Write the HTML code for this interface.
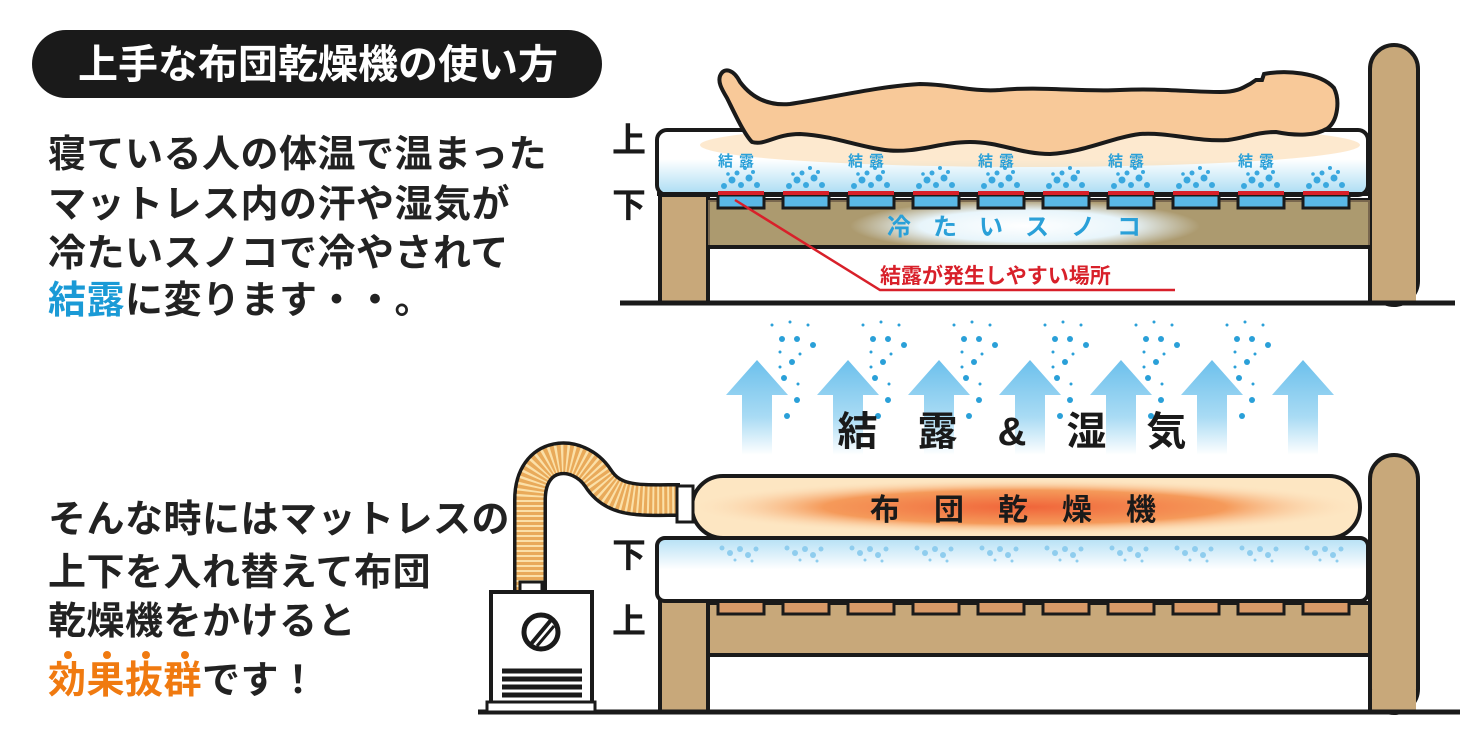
<!DOCTYPE html>
<html><head><meta charset="utf-8"><style>
html,body{margin:0;padding:0;background:#fff;}
body{width:1475px;height:733px;overflow:hidden;position:relative;font-family:"Liberation Sans","Noto Sans CJK JP",sans-serif;}
.t{position:absolute;font-weight:bold;color:#222;font-size:38px;line-height:38px;white-space:nowrap;letter-spacing:0.5px;}
</style></head><body>
<svg width="1475" height="733" style="position:absolute;left:0;top:0" xmlns="http://www.w3.org/2000/svg" font-family="Liberation Sans, Noto Sans CJK JP, sans-serif">
<defs>
<linearGradient id="mt" x1="0" y1="0" x2="0" y2="1">
<stop offset="0" stop-color="#fff"/><stop offset="0.45" stop-color="#fff"/><stop offset="1" stop-color="#a9dcf3"/></linearGradient>
<linearGradient id="mb" x1="0" y1="0" x2="0" y2="1">
<stop offset="0" stop-color="#b5e0f5"/><stop offset="0.5" stop-color="#fff"/><stop offset="1" stop-color="#fff"/></linearGradient>
<linearGradient id="ar" x1="0" y1="0" x2="0" y2="1">
<stop offset="0" stop-color="#6cc0ec"/><stop offset="0.6" stop-color="#a9dbf4"/><stop offset="1" stop-color="#fff"/></linearGradient>
<radialGradient id="bag" cx="0.5" cy="0.5" r="0.5">
<stop offset="0" stop-color="#f0653a"/><stop offset="0.6" stop-color="#f59a5a"/><stop offset="1" stop-color="#fde2bf" stop-opacity="0"/></radialGradient>
<radialGradient id="cold" cx="0.5" cy="0.5" r="0.5">
<stop offset="0" stop-color="#ffffff"/><stop offset="0.6" stop-color="#e8f5fb"/><stop offset="1" stop-color="#e8f5fb" stop-opacity="0"/></radialGradient>
</defs>

<rect x="32" y="30" width="570" height="68" rx="34" fill="#1a1a1a"/>
<text x="318" y="78" font-size="40" font-weight="bold" fill="#fff" text-anchor="middle">上手な布団乾燥機の使い方</text>

<!-- ===== TOP BED ===== -->
<rect x="1370" y="45" width="48" height="260" rx="24" fill="#c8a87a" stroke="#1a1a1a" stroke-width="4"/>
<rect x="1372" y="280" width="44" height="22" fill="#c8a87a"/>
<rect x="660" y="195" width="48" height="108" fill="#c8a87a" stroke="#1a1a1a" stroke-width="4"/>
<rect x="708" y="200" width="662" height="47" fill="#8a8a62" stroke="#1a1a1a" stroke-width="4"/>
<rect x="708" y="200" width="662" height="47" fill="#c8a87a" opacity="0.55"/>
<ellipse cx="1025" cy="226" rx="175" ry="26" fill="url(#cold)"/>
<text x="1025" y="235" font-size="24" font-weight="bold" fill="#2aa0d8" text-anchor="middle" letter-spacing="22">冷たいスノコ</text>
<rect x="708" y="247" width="662" height="56" fill="#fff" stroke="#1a1a1a" stroke-width="4"/>
<line x1="620" y1="303" x2="1455" y2="303" stroke="#1a1a1a" stroke-width="5"/>
<rect x="657" y="130" width="711" height="65" rx="10" fill="url(#mt)" stroke="#1a1a1a" stroke-width="4"/>
<ellipse cx="1030" cy="145" rx="330" ry="22" fill="#fbd3a0" opacity="0.5"/>
<g stroke="#1a1a1a" stroke-width="3">
<rect x="718" y="195" width="46" height="13" fill="#5ab8e6"/><rect x="783" y="195" width="46" height="13" fill="#5ab8e6"/>
<rect x="848" y="195" width="46" height="13" fill="#5ab8e6"/><rect x="913" y="195" width="46" height="13" fill="#5ab8e6"/>
<rect x="978" y="195" width="46" height="13" fill="#5ab8e6"/><rect x="1043" y="195" width="46" height="13" fill="#5ab8e6"/>
<rect x="1108" y="195" width="46" height="13" fill="#5ab8e6"/><rect x="1173" y="195" width="46" height="13" fill="#5ab8e6"/>
<rect x="1238" y="195" width="46" height="13" fill="#5ab8e6"/><rect x="1303" y="195" width="46" height="13" fill="#5ab8e6"/>
</g>
<line x1="657" y1="194" x2="1368" y2="194" stroke="#1a1a1a" stroke-width="4"/>
<g fill="#d8202a">
<rect x="718" y="191" width="46" height="4"/><rect x="783" y="191" width="46" height="4"/><rect x="848" y="191" width="46" height="4"/><rect x="913" y="191" width="46" height="4"/><rect x="978" y="191" width="46" height="4"/><rect x="1043" y="191" width="46" height="4"/><rect x="1108" y="191" width="46" height="4"/><rect x="1173" y="191" width="46" height="4"/><rect x="1238" y="191" width="46" height="4"/><rect x="1303" y="191" width="46" height="4"/>
</g>
<g fill="#3aa8df">
<g id="dc"><circle cx="724" cy="186" r="3"/><circle cx="732" cy="180" r="3.5"/><circle cx="741" cy="185" r="3"/><circle cx="749" cy="178" r="3.5"/><circle cx="757" cy="185" r="3"/><circle cx="737" cy="173" r="2.5"/><circle cx="753" cy="172" r="2"/><circle cx="745" cy="168" r="2"/><circle cx="728" cy="174" r="1.8"/></g>
<use href="#dc" x="65"/><use href="#dc" x="130"/><use href="#dc" x="195"/><use href="#dc" x="260"/><use href="#dc" x="325"/><use href="#dc" x="390"/><use href="#dc" x="455"/><use href="#dc" x="520"/><use href="#dc" x="585"/>
</g>
<g font-size="15" font-weight="bold" fill="#2aa0d8" letter-spacing="6">
<text x="718" y="166">結露</text><text x="848" y="166">結露</text><text x="978" y="166">結露</text><text x="1108" y="166">結露</text><text x="1238" y="166">結露</text>
</g>
<!-- person -->
<path d="M720,76 C724,66 734,70 740,82 C752,98 768,106 790,104 C830,98 880,86 920,84 C950,84 970,92 1000,90 C1040,86 1080,92 1120,90 C1160,88 1190,92 1220,92 C1240,92 1245,86 1250,84 L1256,80 L1262,80 L1264,74 C1285,70 1320,72 1334,88 C1340,100 1338,120 1328,128 C1316,136 1296,136 1276,132 C1256,132 1245,138 1228,140 C1195,142 1170,132 1140,134 C1110,138 1085,152 1050,154 C1020,154 1000,142 970,142 C940,142 915,154 885,150 C855,146 835,136 800,134 C775,134 765,146 752,142 C744,134 734,112 727,98 C721,88 718,82 720,76 Z" fill="#f8c999" stroke="#1a1a1a" stroke-width="4"/>
<polyline points="735,200 880,290 1175,290" fill="none" stroke="#d8202a" stroke-width="2.5"/>
<text x="880" y="283" font-size="21" font-weight="bold" fill="#d8202a">結露が発生しやすい場所</text>
<text x="612" y="152" font-size="34" font-weight="bold" fill="#1a1a1a">上</text>
<text x="612" y="217" font-size="34" font-weight="bold" fill="#1a1a1a">下</text>

<!-- ===== ARROWS ===== -->
<g fill="url(#ar)">
<g id="arw"><polygon points="757,360 788,395 772,395 772,455 742,455 742,395 726,395"/></g>
<use href="#arw" x="91"/><use href="#arw" x="182"/><use href="#arw" x="273"/><use href="#arw" x="364"/><use href="#arw" x="455"/><use href="#arw" x="546"/>
</g>
<g fill="#2aa0d8">
<g id="sp"><circle cx="772" cy="325" r="1.5"/><circle cx="790" cy="322" r="1.5"/><circle cx="808" cy="325" r="1.5"/><circle cx="782" cy="339" r="3"/><circle cx="797" cy="339" r="3"/><circle cx="813" cy="345" r="3"/><circle cx="780" cy="352" r="1.5"/><circle cx="800" cy="354" r="1.5"/><circle cx="792" cy="362" r="3"/><circle cx="780" cy="367" r="1.5"/><circle cx="784" cy="378" r="3"/><circle cx="798" cy="384" r="1.5"/><circle cx="797" cy="400" r="3"/><circle cx="787" cy="416" r="3"/></g>
<use href="#sp" x="91"/><use href="#sp" x="182"/><use href="#sp" x="273"/><use href="#sp" x="364"/><use href="#sp" x="455"/>
</g>
<text x="1032" y="445" font-size="40" font-weight="bold" fill="#1a1a1a" text-anchor="middle" letter-spacing="40">結露&amp;湿気</text>

<!-- ===== BOTTOM BED ===== -->
<rect x="1370" y="455" width="48" height="258" rx="24" fill="#c8a87a" stroke="#1a1a1a" stroke-width="4"/>
<rect x="1372" y="690" width="44" height="20" fill="#c8a87a"/>
<rect x="660" y="600" width="48" height="112" fill="#c8a87a" stroke="#1a1a1a" stroke-width="4"/>
<rect x="708" y="603" width="662" height="52" fill="#c8a87a" stroke="#1a1a1a" stroke-width="4"/>
<rect x="708" y="655" width="662" height="57" fill="#fff" stroke="#1a1a1a" stroke-width="4"/>
<line x1="478" y1="712" x2="1460" y2="712" stroke="#1a1a1a" stroke-width="5"/>
<g stroke="#1a1a1a" stroke-width="3" fill="#d99a68">
<rect x="718" y="600" width="46" height="14"/><rect x="783" y="600" width="46" height="14"/><rect x="848" y="600" width="46" height="14"/><rect x="913" y="600" width="46" height="14"/><rect x="978" y="600" width="46" height="14"/><rect x="1043" y="600" width="46" height="14"/><rect x="1108" y="600" width="46" height="14"/><rect x="1173" y="600" width="46" height="14"/><rect x="1238" y="600" width="46" height="14"/><rect x="1303" y="600" width="46" height="14"/>
</g>
<rect x="657" y="538" width="711" height="63" rx="8" fill="url(#mb)" stroke="#1a1a1a" stroke-width="4"/>
<g fill="#8fcdee">
<g id="db"><circle cx="722" cy="548" r="2.5"/><circle cx="730" cy="553" r="3"/><circle cx="740" cy="549" r="3"/><circle cx="748" cy="555" r="3"/><circle cx="756" cy="549" r="2.5"/><circle cx="735" cy="560" r="1.5"/><circle cx="752" cy="561" r="1.5"/></g>
<use href="#db" x="65"/><use href="#db" x="130"/><use href="#db" x="195"/><use href="#db" x="260"/><use href="#db" x="325"/><use href="#db" x="390"/><use href="#db" x="455"/><use href="#db" x="520"/><use href="#db" x="585"/>
</g>
<rect x="692" y="476" width="668" height="62" rx="31" fill="#fde6c2" stroke="#1a1a1a" stroke-width="4"/>
<ellipse cx="1025" cy="507" rx="335" ry="28" fill="url(#bag)"/>
<text x="1030" y="520" font-size="30" font-weight="bold" fill="#1a1a1a" text-anchor="middle" letter-spacing="34">布団乾燥機</text>
<path d="M530,592 L530,500 C530,450 578,448 598,478 C614,503 640,500 680,500" fill="none" stroke="#1a1a1a" stroke-width="34"/>
<path d="M530,592 L530,500 C530,450 578,448 598,478 C614,503 640,500 680,500" fill="none" stroke="#e9aa5a" stroke-width="27"/>
<path d="M530,592 L530,500 C530,450 578,448 598,478 C614,503 640,500 680,500" fill="none" stroke="#fbe0a8" stroke-width="27" stroke-dasharray="2 3"/>
<rect x="677" y="486" width="16" height="36" fill="#fff" stroke="#1a1a1a" stroke-width="3"/>
<rect x="520" y="582" width="22" height="12" fill="#fff" stroke="#1a1a1a" stroke-width="3"/>
<rect x="491" y="592" width="101" height="112" fill="#fff" stroke="#1a1a1a" stroke-width="4"/>
<rect x="487" y="702" width="108" height="10" fill="#fff" stroke="#1a1a1a" stroke-width="3"/>
<circle cx="541" cy="632" r="17" fill="#fff" stroke="#1a1a1a" stroke-width="5"/>
<line x1="531" y1="644" x2="551" y2="620" stroke="#1a1a1a" stroke-width="4"/>
<line x1="537" y1="646" x2="554" y2="626" stroke="#1a1a1a" stroke-width="3"/>
<g stroke="#1a1a1a" stroke-width="5">
<line x1="502" y1="671" x2="582" y2="671"/><line x1="502" y1="679" x2="582" y2="679"/><line x1="502" y1="687" x2="582" y2="687"/><line x1="502" y1="695" x2="582" y2="695"/>
</g>
<text x="612" y="567" font-size="34" font-weight="bold" fill="#1a1a1a">下</text>
<text x="612" y="633" font-size="34" font-weight="bold" fill="#1a1a1a">上</text>
<g fill="#f07a10"><circle cx="68" cy="655" r="4"/><circle cx="107" cy="655" r="4"/><circle cx="146" cy="655" r="4"/><circle cx="185" cy="655" r="4"/></g>
</svg>

<div class="t" style="left:48px;top:136px;">寝ている人の体温で温まった</div>
<div class="t" style="left:48px;top:186px;">マットレス内の汗や湿気が</div>
<div class="t" style="left:48px;top:235px;">冷たいスノコで冷やされて</div>
<div class="t" style="left:48px;top:282px;"><span style="color:#1a9ad6">結露</span>に変ります・・。</div>

<div class="t" style="left:48px;top:501px;">そんな時にはマットレスの</div>
<div class="t" style="left:48px;top:554px;">上下を入れ替えて布団</div>
<div class="t" style="left:48px;top:603px;">乾燥機をかけると</div>
<div class="t" style="left:48px;top:662px;"><span style="color:#f07a10">効果抜群</span>です！</div>
</body></html>
